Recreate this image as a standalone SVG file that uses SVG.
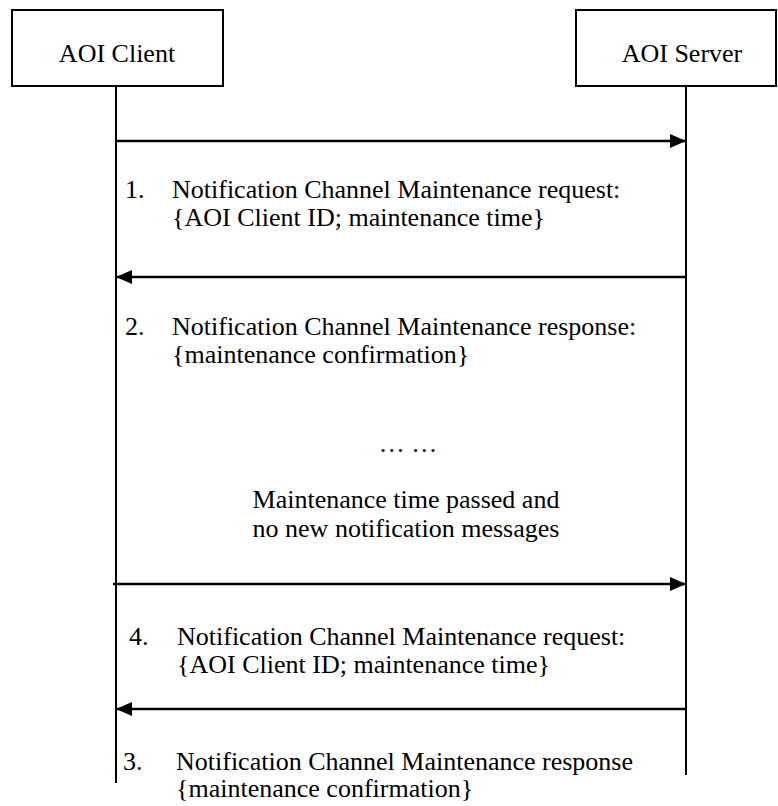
<svg xmlns="http://www.w3.org/2000/svg" width="778" height="806" viewBox="0 0 778 806">
<style>
text{font-family:"Liberation Serif","Times New Roman",serif;font-size:26px;fill:#000}
.box{fill:#fff;stroke:#000;stroke-width:2}
.life{stroke:#000;stroke-width:2;fill:none}
.msg{stroke:#000;stroke-width:2.5;fill:none;marker-end:url(#ah)}
.c{text-anchor:middle}
</style>
<defs>
<marker id="ah" markerUnits="userSpaceOnUse" markerWidth="18" markerHeight="16" refX="16" refY="7" orient="auto">
<path d="M0,0 L16,7 L0,14 Z" fill="#000"/>
</marker>
</defs>
<g id="client">
<rect class="box" x="12" y="10" width="211" height="76"/>
<text class="c" x="117" y="62">AOI Client</text>
</g>
<g id="server">
<rect class="box" x="576" y="10" width="200" height="76"/>
<text class="c" x="682" y="62">AOI Server</text>
</g>
<g id="lifelines">
<line class="life" x1="116" y1="86" x2="116" y2="783"/>
<line class="life" x1="686" y1="86" x2="686" y2="775"/>
</g>
<g id="connectors">
<line class="msg" x1="116" y1="141" x2="686" y2="141"/>
<line class="msg" x1="686" y1="277" x2="116" y2="277"/>
<line class="msg" x1="113" y1="584" x2="686" y2="584"/>
<line class="msg" x1="686" y1="709" x2="116" y2="709"/>
</g>
<g id="msg1">
<text x="125" y="198">1.</text>
<text x="172" y="198">Notification Channel Maintenance request:</text>
<text x="172" y="226">{AOI Client ID; maintenance time}</text>
</g>
<g id="msg2">
<text x="125" y="335">2.</text>
<text x="172" y="335">Notification Channel Maintenance response:</text>
<text x="172" y="363">{maintenance confirmation}</text>
</g>
<g id="note">
<text class="c" x="408" y="452">… …</text>
<text class="c" x="406" y="508">Maintenance time passed and</text>
<text class="c" x="406" y="537">no new notification messages</text>
</g>
<g id="msg4">
<text x="129" y="645">4.</text>
<text x="177" y="645">Notification Channel Maintenance request:</text>
<text x="177" y="673">{AOI Client ID; maintenance time}</text>
</g>
<g id="msg3">
<text x="123" y="770">3.</text>
<text x="176" y="770">Notification Channel Maintenance response</text>
<text x="176" y="797">{maintenance confirmation}</text>
</g>
</svg>
